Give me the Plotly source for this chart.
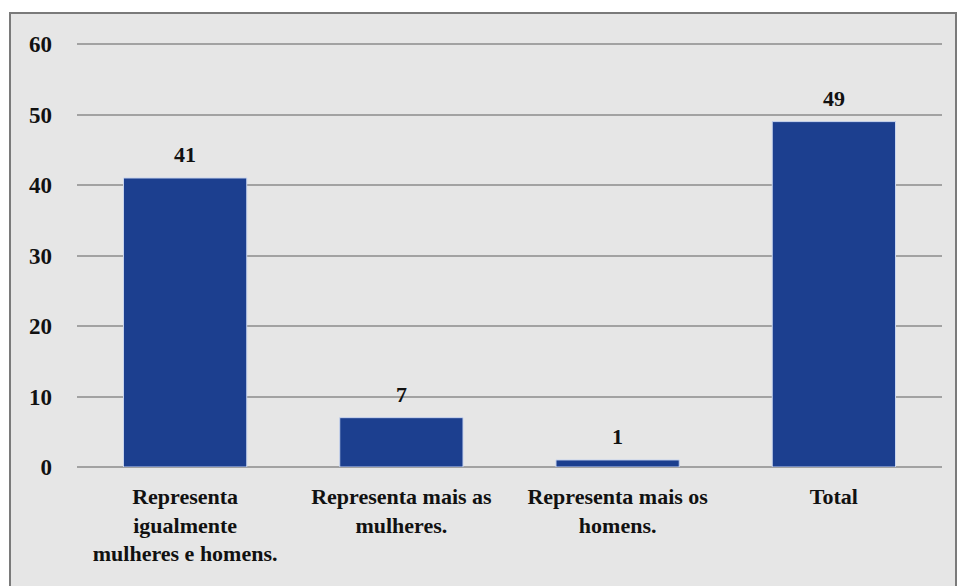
import plotly.graph_objects as go

categories = ["Representa<br>igualmente<br>mulheres e homens.",
              "Representa mais as<br>mulheres.",
              "Representa mais os<br>homens.",
              "Total"]
values = [41, 7, 1, 49]
y_ticks = [0, 10, 20, 30, 40, 50, 60]

W, H = 957, 586
font_family = "Liberation Serif, Times New Roman, serif"

fig = go.Figure()
fig.add_trace(go.Bar(
    x=categories, y=values,
    marker=dict(color="#1c3f8f", line=dict(color="#c8d4ee", width=1)),
    width=0.57,
    hoverinfo="skip",
))

for c, v in zip(categories, values):
    fig.add_annotation(x=c, y=v, text="<b>%d</b>" % v, showarrow=False,
                       yshift=23, font=dict(family=font_family, size=22, color="#111"))

fig.add_shape(type="rect", xref="paper", yref="paper",
              x0=-67/865, x1=1 + 14/865, y0=-(120)/423, y1=1 + 30/423,
              line=dict(color="#7a7a7a", width=2), fillcolor="#e6e6e6", layer="below")

fig.update_layout(
    width=W, height=H,
    margin=dict(l=77, r=15, t=43, b=119),
    paper_bgcolor="white",
    plot_bgcolor="rgba(0,0,0,0)",
    showlegend=False,
    font=dict(family=font_family, size=22, color="#111"),
    xaxis=dict(showgrid=False, showline=False, ticks="",
               tickvals=categories,
               ticktext=["<b>%s</b>" % c.replace("<br>", "</b><br><b>") for c in categories],
               tickfont=dict(family=font_family, size=22, color="#111"),
               ticklabelstandoff=14),
    yaxis=dict(range=[0, 60.15], tickvals=y_ticks,
               ticktext=["<b>%d</b>" % t for t in y_ticks],
               showgrid=True,
               gridcolor="#a2a2a2", gridwidth=1.5,
               zeroline=True, zerolinecolor="#a2a2a2", zerolinewidth=1.5,
               showline=False, ticks="",
               tickfont=dict(family=font_family, size=23, color="#111"),
               ticklabelstandoff=24),
)

fig.write_html("out.html")
